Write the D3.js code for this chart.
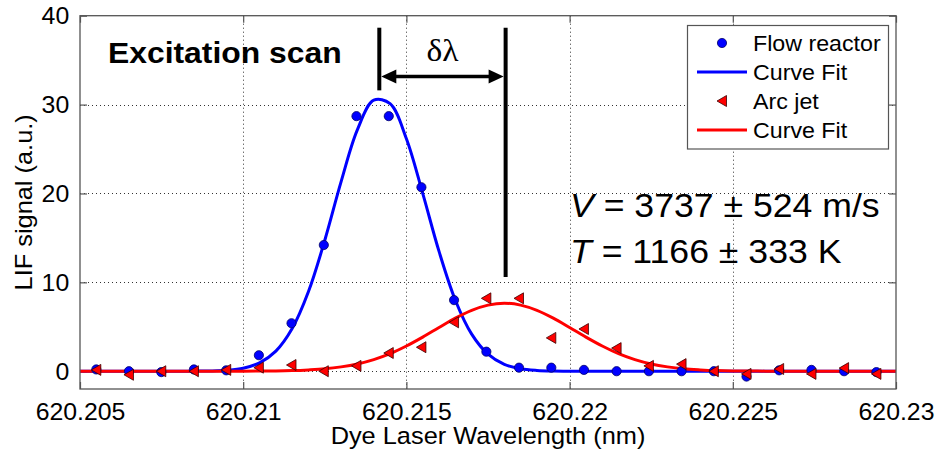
<!DOCTYPE html>
<html><head><meta charset="utf-8">
<script src="https://cdn.jsdelivr.net/npm/d3@7"></script>
<style>
body{margin:0;background:#fff;}
svg{display:block;}
text{font-family:"Liberation Sans",Arial,sans-serif;fill:#000;}
</style>
</head><body>
<svg id="chart" width="937" height="455"></svg>
<script>
// ---------------- data ----------------
const wavelengths = [620.2055, 620.2065, 620.20749, 620.20849, 620.20948, 620.21048, 620.21148, 620.21247,
  620.21347, 620.21446, 620.21546, 620.21646, 620.21745, 620.21845, 620.21944, 620.22044, 620.22144,
  620.22243, 620.22343, 620.22442, 620.22542, 620.22642, 620.22741, 620.22841, 620.2294];
const flowReactor = [0.2, 0.0, -0.1, 0.2, 0.1, 1.8, 5.4, 14.2, 28.7, 28.7, 20.7, 8.0, 2.2, 0.4, 0.4, 0.15,
  0.0, 0.0, 0.0, 0.0, -0.6, 0.1, 0.15, 0.0, -0.1];
const arcJet = [0.15, -0.4, 0.0, 0.0, 0.15, 0.4, 0.7, 0.0, 0.6, 2.05, 2.7, 5.5, 8.2, 8.2, 3.75, 4.75,
  2.6, 0.6, 0.8, 0.0, -0.3, 0.25, -0.3, 0.35, -0.3];

const fitWavelengths = [620.2050, 620.2055, 620.2060, 620.2065, 620.2070, 620.2075, 620.2080, 620.2085,
  620.2090, 620.2095, 620.2100, 620.2105, 620.2110, 620.2115, 620.2120, 620.2125, 620.2130, 620.2135,
  620.2140, 620.2145, 620.2150, 620.2155, 620.2160, 620.2165, 620.2170, 620.2175, 620.2180, 620.2185,
  620.2190, 620.2195, 620.2200, 620.2205, 620.2210, 620.2215, 620.2220, 620.2225, 620.2230, 620.2235,
  620.2240, 620.2245, 620.2250, 620.2255, 620.2260, 620.2265, 620.2270, 620.2275, 620.2280, 620.2285,
  620.2290, 620.2295, 620.2300];
const flowFit = [0, 0, 0, 0, 0, 0, 0, 0.01, 0.03, 0.11, 0.34, 0.94, 2.26, 4.80, 8.96, 14.74, 21.33, 27.18,
  30.49, 30.10, 26.16, 20.01, 13.48, 7.99, 4.17, 1.92, 0.77, 0.28, 0.09, 0.02, 0, 0, 0, 0, 0, 0, 0, 0,
  0, 0, 0, 0, 0, 0, 0, 0, 0, 0, 0, 0, 0];
const arcFit = [0, 0, 0, 0, 0, 0, 0, 0, 0, 0, 0.01, 0.02, 0.03, 0.07, 0.15, 0.27, 0.49, 0.82, 1.31, 1.98,
  2.84, 3.84, 4.92, 5.97, 6.85, 7.44, 7.65, 7.44, 6.85, 5.97, 4.92, 3.84, 2.84, 1.98, 1.31, 0.82, 0.49,
  0.27, 0.15, 0.07, 0.03, 0.02, 0.01, 0, 0, 0, 0, 0, 0, 0, 0];

const xTicks = [620.205, 620.21, 620.215, 620.22, 620.225, 620.23];
const xTickLabels = ["620.205", "620.21", "620.215", "620.22", "620.225", "620.23"];
const yTicks = [0, 10, 20, 30, 40];
const yTickLabels = ["0", "10", "20", "30", "40"];
const xDomain = [620.205, 620.23];
const yDomain = [-2, 40];

const peakFlow = 620.21417, peakArc = 620.21804;
const markerTop = 38.65, leftMarkerBottom = 31.6, rightMarkerBottom = 10.6, arrowLevel = 33.15;
const legendLabels = ["Flow reactor", "Curve Fit", "Arc jet", "Curve Fit"];
const titleText = "Excitation scan";
const deltaText = "\u03B4\u03BB";
const xLabel = "Dye Laser Wavelength (nm)";
const yLabel = "LIF signal (a.u.)";

// ---------------- layout ----------------
const L = 80, R = 896, T = 15.7, B = 389;
const SX = 1.08; // horizontal text stretch of original
const BLUE = "#0000ff", RED = "#ff0000", AX = "#555";

const svg = d3.select("#chart");
const x = d3.scaleLinear().domain(xDomain).range([L, R]);
const y = d3.scaleLinear().domain(yDomain).range([B, T]);

function stretched(g, px, py, str) {
  return g.append("text").attr("transform", `translate(${px},${py}) scale(${SX},1)`).text(str);
}

// white plot background
svg.append("rect").attr("x", 0).attr("y", 0).attr("width", 937).attr("height", 455).attr("fill", "#fff");

// grid
const grid = svg.append("g").attr("stroke", "#333").attr("stroke-width", 1).attr("stroke-dasharray", "1,3");
xTicks.slice(1, -1).forEach(v => {
  grid.append("line").attr("x1", Math.round(x(v)) + 0.5).attr("x2", Math.round(x(v)) + 0.5)
    .attr("y1", T).attr("y2", B);
});
yTicks.slice(0, -1).forEach(v => {
  grid.append("line").attr("y1", Math.round(y(v)) + 0.5).attr("y2", Math.round(y(v)) + 0.5)
    .attr("x1", L).attr("x2", R);
});

// axes
const fs = 23;
const gB = svg.append("g").attr("transform", `translate(0,${B})`)
  .call(d3.axisBottom(x).tickValues(xTicks).tickFormat((d, i) => xTickLabels[i]).tickSizeInner(-7).tickSizeOuter(0));
gB.select(".domain").remove();
gB.selectAll("line").attr("stroke", AX).attr("stroke-width", 1.2);
gB.selectAll("text").attr("y", 31).attr("dy", null).attr("font-size", fs).attr("fill", "#000")
  .attr("font-family", '"Liberation Sans",Arial,sans-serif').attr("transform", `scale(${SX},1)`);

const gL = svg.append("g").attr("transform", `translate(${L},0)`)
  .call(d3.axisLeft(y).tickValues(yTicks).tickFormat((d, i) => yTickLabels[i]).tickSizeInner(-7).tickSizeOuter(0).tickPadding(10));
gL.select(".domain").remove();
gL.selectAll("line").attr("stroke", AX).attr("stroke-width", 1.2);
gL.selectAll("text").attr("font-size", fs).attr("fill", "#000").attr("dy", "0.36em")
  .attr("font-family", '"Liberation Sans",Arial,sans-serif').attr("transform", `scale(${SX},1)`);

const gT = svg.append("g").attr("transform", `translate(0,${T})`)
  .call(d3.axisTop(x).tickValues(xTicks).tickFormat("").tickSizeInner(-7).tickSizeOuter(0));
gT.select(".domain").remove();
gT.selectAll("line").attr("stroke", AX).attr("stroke-width", 1.2);

const gR = svg.append("g").attr("transform", `translate(${R},0)`)
  .call(d3.axisRight(y).tickValues(yTicks).tickFormat("").tickSizeInner(-7).tickSizeOuter(0));
gR.select(".domain").remove();
gR.selectAll("line").attr("stroke", AX).attr("stroke-width", 1.2);

// clip
svg.append("clipPath").attr("id", "clip").append("rect")
  .attr("x", L).attr("y", T).attr("width", R - L).attr("height", B - T);
const plot = svg.append("g").attr("clip-path", "url(#clip)");

// fit curves
const fitLine = d3.line()
  .x((d, i) => x(fitWavelengths[i]))
  .y(d => y(d))
  .curve(d3.curveCatmullRom.alpha(0.5));
plot.append("path").datum(flowFit).attr("d", fitLine)
  .attr("fill", "none").attr("stroke", BLUE).attr("stroke-width", 3);
plot.append("path").datum(arcFit).attr("d", fitLine)
  .attr("fill", "none").attr("stroke", RED).attr("stroke-width", 3);

// markers
const triPath = "M-5,0L4.5,-5.5L4.5,5.5Z";
plot.selectAll("circle.flow").data(flowReactor).enter().append("circle")
  .attr("class", "flow")
  .attr("cx", (d, i) => x(wavelengths[i])).attr("cy", d => y(d)).attr("r", 4.6)
  .attr("fill", BLUE).attr("stroke", "#00006a").attr("stroke-width", 0.8);
plot.selectAll("path.arc").data(arcJet).enter().append("path")
  .attr("class", "arc")
  .attr("d", triPath)
  .attr("transform", (d, i) => `translate(${x(wavelengths[i])},${y(d)})`)
  .attr("fill", RED).attr("stroke", "#3a0000").attr("stroke-width", 0.8);

// box
svg.append("rect").attr("x", L).attr("y", T).attr("width", R - L).attr("height", B - T)
  .attr("fill", "none").attr("stroke", AX).attr("stroke-width", 1.3);

// axis labels
const lab = svg.append("g").attr("font-size", 23.5);
stretched(lab, (L + R) / 2, 444, xLabel).attr("text-anchor", "middle");
lab.append("text").attr("transform", `translate(32,${(T + B) / 2}) rotate(-90) scale(${SX},1)`)
  .attr("text-anchor", "middle").text(yLabel);

// annotations
const ann = svg.append("g");
ann.append("line").attr("x1", x(peakFlow)).attr("x2", x(peakFlow))
  .attr("y1", y(markerTop)).attr("y2", y(leftMarkerBottom)).attr("stroke", "#000").attr("stroke-width", 4);
ann.append("line").attr("x1", x(peakArc)).attr("x2", x(peakArc))
  .attr("y1", y(markerTop)).attr("y2", y(rightMarkerBottom)).attr("stroke", "#000").attr("stroke-width", 4);
const ax1 = x(peakFlow) + 2, ax2 = x(peakArc) - 2, ay = y(arrowLevel);
ann.append("line").attr("x1", ax1 + 10).attr("x2", ax2 - 10).attr("y1", ay).attr("y2", ay)
  .attr("stroke", "#000").attr("stroke-width", 3.5);
ann.append("path").attr("d", `M${ax1},${ay}L${ax1 + 15},${ay - 7}L${ax1 + 15},${ay + 7}Z`).attr("fill", "#000");
ann.append("path").attr("d", `M${ax2},${ay}L${ax2 - 15},${ay - 7}L${ax2 - 15},${ay + 7}Z`).attr("fill", "#000");
stretched(ann, (x(peakFlow) + x(peakArc)) / 2, 61, deltaText)
  .attr("text-anchor", "middle").attr("font-size", 31)
  .style("font-family", '"Liberation Serif","Times New Roman",serif');

// title
stretched(svg, 108, 63, titleText).attr("font-size", 29.5).attr("font-weight", "bold");

// V and T results
const vT = stretched(svg, 570, 217, "").attr("font-size", 33);
vT.append("tspan").attr("font-style", "italic").text("V");
vT.append("tspan").text(" = 3737 \u00B1 524 m/s");
const tT = stretched(svg, 570, 263, "").attr("font-size", 33);
tT.append("tspan").attr("font-style", "italic").text("T");
tT.append("tspan").text(" = 1166 \u00B1 333 K");

// legend
const lg = svg.append("g");
lg.append("rect").attr("x", 687.5).attr("y", 25.5).attr("width", 201).attr("height", 123.5)
  .attr("fill", "#fff").attr("stroke", AX).attr("stroke-width", 1.2);
const rowsY = [43, 72, 101, 130];
lg.append("circle").attr("cx", 722).attr("cy", rowsY[0]).attr("r", 4.6)
  .attr("fill", BLUE).attr("stroke", "#00006a").attr("stroke-width", 0.8);
lg.append("line").attr("x1", 697).attr("x2", 747).attr("y1", rowsY[1]).attr("y2", rowsY[1])
  .attr("stroke", BLUE).attr("stroke-width", 3);
lg.append("path").attr("d", triPath).attr("transform", `translate(722,${rowsY[2]})`)
  .attr("fill", RED).attr("stroke", "#3a0000").attr("stroke-width", 0.8);
lg.append("line").attr("x1", 697).attr("x2", 747).attr("y1", rowsY[3]).attr("y2", rowsY[3])
  .attr("stroke", RED).attr("stroke-width", 3);
legendLabels.forEach((t, i) => {
  stretched(lg, 753, rowsY[i] + 7.8, t).attr("font-size", 21.5);
});
</script>
</body></html>
